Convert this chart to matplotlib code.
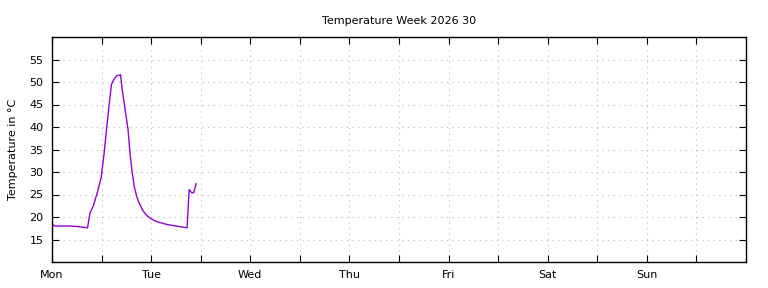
import matplotlib
matplotlib.use("Agg")
import matplotlib.pyplot as plt
from matplotlib.ticker import FixedLocator

title = "Temperature Week 2026 30"
ylabel = "Temperature in °C"
day_labels = ["Mon", "Tue", "Wed", "Thu", "Fri", "Sat", "Sun"]

# hours since Monday 00:00
hours = [0.2, 0.6, 4.0, 6.0, 8.6, 9.2, 10.0, 11.0, 11.9, 12.6, 13.2, 13.9, 14.4,
         15.0, 15.7, 16.6, 16.9, 17.6, 18.4, 18.9, 19.4, 19.9, 20.5, 21.0, 22.0,
         23.0, 24.0, 25.0, 26.0, 28.0, 30.0, 32.0, 32.7, 33.2, 33.8, 34.3, 34.9]
temps = [18.3, 18.0, 18.0, 17.9, 17.6, 20.9, 22.5, 25.5, 28.8, 34.0, 39.5, 45.5, 49.5,
         50.6, 51.4, 51.6, 49.0, 44.5, 39.5, 34.0, 30.0, 26.8, 24.6, 23.3, 21.4,
         20.3, 19.6, 19.1, 18.8, 18.3, 18.0, 17.7, 17.6, 26.1, 25.4, 25.4, 27.4]

fig = plt.figure(figsize=(7.68, 2.88), dpi=100)
ax = fig.add_axes([52/768, 1-262/288, (746-52)/768, (262-37)/288])

ax.plot(hours, temps, color="#9400D3", linewidth=1.0)

ax.set_xlim(0, 168)
ax.set_ylim(10, 60)
ax.xaxis.set_major_locator(FixedLocator([0, 24, 48, 72, 96, 120, 144]))
ax.set_xticklabels(day_labels)
ax.xaxis.set_minor_locator(FixedLocator([12, 36, 60, 84, 108, 132, 156]))
ax.yaxis.set_major_locator(FixedLocator([15, 20, 25, 30, 35, 40, 45, 50, 55]))

ax.tick_params(which="both", direction="in", top=True, right=True,
               length=5, width=0.8, labelsize=8, pad=6)
ax.grid(True, which="both", color="#b8b8b8", linestyle=(0, (1, 4)), linewidth=0.8)
ax.set_axisbelow(True)
for s in ax.spines.values():
    s.set_linewidth(1.0)

ax.set_title(title, fontsize=8, pad=9)
ax.set_ylabel(ylabel, fontsize=8, labelpad=8)

fig.savefig("out.png", dpi=100)
